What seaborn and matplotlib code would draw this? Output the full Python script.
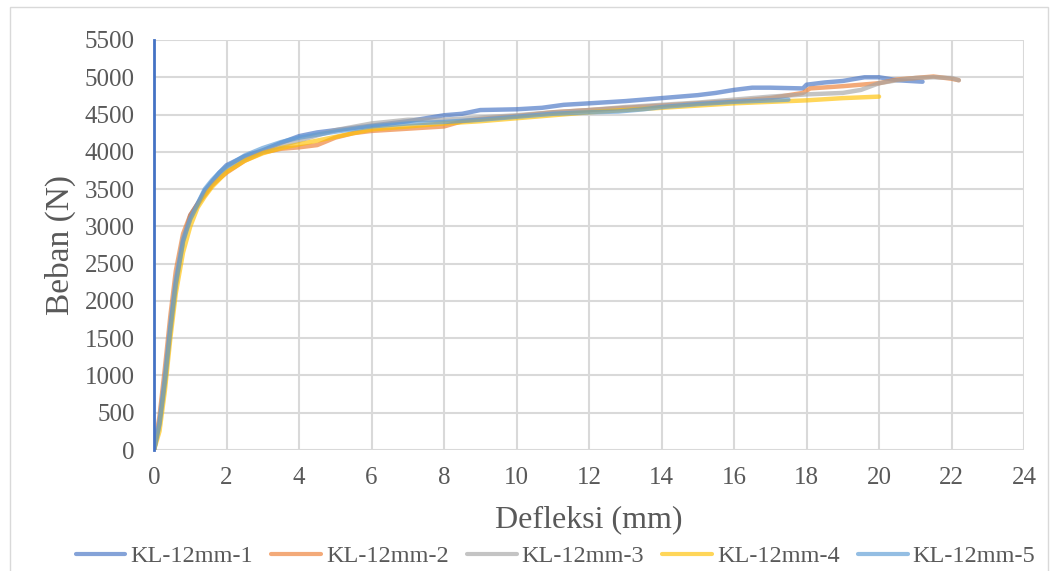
import pandas as pd
import numpy as np
import matplotlib.pyplot as plt
import seaborn as sns

# Load-deflection curves
x1 = [0, 0.15, 0.3, 0.45, 0.6, 0.8, 1.0, 1.2, 1.4, 1.6, 1.8, 2.0, 2.5, 3.0, 3.5, 4.0, 4.5, 5.0, 6.0,
      7.0, 7.5, 8.0, 8.5, 9.0, 10.0, 10.7, 11.3, 12.0, 13.0, 14.0, 15.0, 15.5, 16.0, 16.5, 17.0, 17.9,
      18.0, 18.5, 19.0, 19.6, 20.0, 20.5, 21.2]
y1 = [0, 350, 900, 1600, 2200, 2800, 3150, 3300, 3480, 3600, 3720, 3820, 3940, 4020, 4120, 4210, 4260,
      4290, 4350, 4410, 4450, 4490, 4510, 4560, 4570, 4590, 4630, 4650, 4680, 4720, 4760, 4790, 4830,
      4860, 4860, 4850, 4900, 4930, 4950, 5000, 5000, 4960, 4940]

x2 = [0, 0.15, 0.3, 0.45, 0.6, 0.8, 1.0, 1.2, 1.4, 1.6, 1.8, 2.0, 2.5, 3.0, 3.5, 4.0, 4.5, 5.0, 5.5,
      6.0, 7.0, 8.0, 8.5, 9.0, 10.0, 11.0, 12.0, 13.0, 14.0, 15.0, 16.0, 17.0, 17.9, 18.1, 19.0, 20.0,
      20.5, 21.0, 21.5, 22.0, 22.2]
y2 = [0, 450, 1100, 1800, 2400, 2900, 3150, 3300, 3420, 3550, 3640, 3720, 3880, 3990, 4040, 4060, 4090,
      4190, 4250, 4280, 4310, 4340, 4410, 4440, 4480, 4530, 4560, 4590, 4620, 4650, 4680, 4720, 4790,
      4850, 4880, 4920, 4970, 4990, 5010, 4980, 4960]

x3 = [0, 0.15, 0.3, 0.45, 0.6, 0.8, 1.0, 1.2, 1.4, 1.6, 1.8, 2.0, 2.5, 3.0, 3.5, 4.0, 5.0, 6.0, 7.0,
      8.0, 9.0, 10.0, 11.0, 12.0, 13.0, 14.0, 15.0, 16.0, 17.0, 18.0, 19.0, 19.5, 20.0, 20.5, 21.0,
      21.5, 22.0, 22.2]
y3 = [0, 400, 1000, 1700, 2300, 2850, 3100, 3280, 3450, 3580, 3680, 3780, 3910, 4010, 4080, 4150, 4290,
      4380, 4430, 4430, 4460, 4490, 4530, 4560, 4600, 4630, 4660, 4700, 4740, 4770, 4790, 4830, 4920,
      4960, 4990, 5000, 4990, 4960]

x4 = [0, 0.15, 0.3, 0.45, 0.6, 0.8, 1.0, 1.2, 1.4, 1.6, 1.8, 2.0, 2.5, 3.0, 3.5, 4.0, 5.0, 6.0, 7.0,
      8.0, 9.0, 10.0, 11.0, 12.0, 13.0, 14.0, 15.0, 16.0, 17.0, 18.0, 19.0, 20.0]
y4 = [0, 250, 800, 1500, 2100, 2650, 3000, 3250, 3400, 3530, 3630, 3730, 3880, 3980, 4050, 4100, 4200,
      4300, 4340, 4380, 4410, 4450, 4490, 4530, 4560, 4590, 4620, 4650, 4670, 4690, 4720, 4740]

x5 = [0, 0.15, 0.3, 0.45, 0.6, 0.8, 1.0, 1.2, 1.4, 1.6, 1.8, 2.0, 2.5, 3.0, 3.5, 4.0, 5.0, 6.0, 7.0,
      8.0, 9.0, 10.0, 11.0, 12.0, 12.8, 13.5, 14.0, 15.0, 16.0, 17.0, 17.5]
y5 = [0, 350, 950, 1650, 2250, 2800, 3100, 3300, 3500, 3620, 3720, 3800, 3950, 4050, 4130, 4190, 4270,
      4340, 4380, 4400, 4430, 4470, 4510, 4530, 4540, 4570, 4600, 4640, 4670, 4690, 4700]

labels = ['KL-12mm-1', 'KL-12mm-2', 'KL-12mm-3', 'KL-12mm-4', 'KL-12mm-5']
colors = ['#4472C4', '#ED7D31', '#A5A5A5', '#FFC000', '#5B9BD5']

frames = []
for lab, xs, ys in zip(labels, [x1, x2, x3, x4, x5], [y1, y2, y3, y4, y5]):
    frames.append(pd.DataFrame({'Defleksi': xs, 'Beban': ys, 'Benda uji': lab}))
df = pd.concat(frames, ignore_index=True)

sns.set_style('white')
plt.rcParams['font.family'] = ['Liberation Serif', 'DejaVu Serif']

fig = plt.figure(figsize=(10.58, 5.71), dpi=100)
ax = fig.add_axes([0.1456, 0.2119, 0.8223, 0.7181])

sns.lineplot(data=df, x='Defleksi', y='Beban', hue='Benda uji', palette=colors,
             sort=False, estimator=None, linewidth=3.2, alpha=0.65, ax=ax, legend=False)

ax.set_xlim(0, 24)
ax.set_ylim(0, 5500)
ax.set_xticks(np.arange(0, 25, 2))
ax.set_yticks(np.arange(0, 5501, 500))
ax.grid(True, color='#d9d9d9', linewidth=1.5)
ax.set_axisbelow(True)
for s in ['top', 'right', 'bottom']:
    ax.spines[s].set_visible(False)
ax.spines['left'].set_color('#4472C4')
ax.spines['left'].set_linewidth(2)
ax.tick_params(axis='both', length=0, labelsize=18, colors='#595959')
ax.tick_params(axis='x', pad=12)
ax.tick_params(axis='y', pad=14)
ax.set_xlabel('Defleksi (mm)', fontsize=23, color='#595959', labelpad=12)
ax.set_ylabel('Beban (N)', fontsize=24, color='#595959', labelpad=6)

handles = [plt.Line2D([], [], color=c, linewidth=3, alpha=0.65) for c in colors]
fig.legend(handles, labels, loc='center', bbox_to_anchor=(0.525, 0.026), ncol=5, frameon=False,
           fontsize=17.5, handlelength=2.05, columnspacing=0.75, handletextpad=0.2,
           labelcolor='#595959')

# thin frame around the chart area
fig.patches.append(plt.Rectangle((0.009, -0.01), 0.982, 0.998, transform=fig.transFigure,
                                 fill=False, edgecolor='#d9d9d9', linewidth=1))

fig.savefig('out.png', dpi=100)
